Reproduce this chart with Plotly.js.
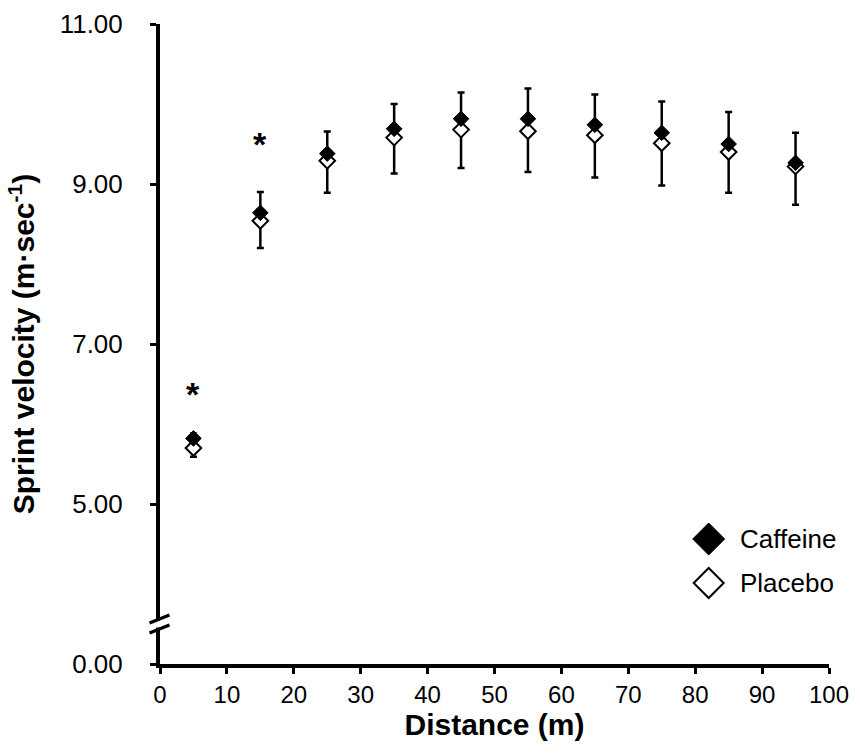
<!DOCTYPE html>
<html>
<head>
<meta charset="utf-8">
<script src="https://cdn.plot.ly/plotly-3.0.1.min.js"></script>
<style>html,body{margin:0;padding:0;background:#fff;}#chart{width:860px;height:755px;}</style>
</head>
<body>
<div id="chart"></div>
<script>
// ---- data ----
var distance = [5, 15, 25, 35, 45, 55, 65, 75, 85, 95];
var caffeine = [5.82, 8.64, 9.38, 9.69, 9.815, 9.815, 9.74, 9.64, 9.50, 9.265];
var caffeineErrUp = [0.06, 0.26, 0.275, 0.31, 0.33, 0.38, 0.38, 0.39, 0.40, 0.375];
var placebo = [5.70, 8.54, 9.29, 9.58, 9.68, 9.66, 9.61, 9.51, 9.40, 9.22];
var placeboErrDown = [0.11, 0.34, 0.40, 0.45, 0.48, 0.51, 0.53, 0.53, 0.51, 0.48];
var yTickVals = [3, 5, 7, 9, 11];
var yTickText = ['0.00', '5.00', '7.00', '9.00', '11.00'];
var xTickVals = [0, 10, 20, 30, 40, 50, 60, 70, 80, 90, 100];
var sigDistance = [5, 15];
var sigY = [6.40, 9.53];
var seriesNames = ['Caffeine', 'Placebo'];

var FONT = 'Liberation Sans, Arial, Helvetica, sans-serif';

var tracePlacebo = {
  x: distance, y: placebo, type: 'scatter', mode: 'markers', name: seriesNames[1],
  marker: {symbol: 'diamond', size: 12, color: '#ffffff', line: {color: '#000', width: 2}},
  error_y: {type: 'data', symmetric: false, array: placebo.map(function(){return 0;}), arrayminus: placeboErrDown,
            color: '#000', thickness: 2.5, width: 3.5},
  showlegend: false, hoverinfo: 'x+y'
};
var traceCaffeine = {
  x: distance, y: caffeine, type: 'scatter', mode: 'markers', name: seriesNames[0],
  marker: {symbol: 'diamond', size: 12, color: '#000000', line: {color: '#000', width: 1}},
  error_y: {type: 'data', symmetric: false, array: caffeineErrUp, arrayminus: caffeine.map(function(){return 0;}),
            color: '#000', thickness: 2.5, width: 3.5},
  showlegend: false, hoverinfo: 'x+y'
};

function px2x(p){ return (p - 159.5) / 670; }
function px2y(p){ return (664 - p) / 640; }
function diamondPath(cx, cy, h){
  return 'M ' + px2x(cx-h) + ' ' + px2y(cy) + ' L ' + px2x(cx) + ' ' + px2y(cy-h) +
         ' L ' + px2x(cx+h) + ' ' + px2y(cy) + ' L ' + px2x(cx) + ' ' + px2y(cy+h) + ' Z';
}

var annotations = sigDistance.map(function(d, i){
  return {x: d, y: sigY[i], xref: 'x', yref: 'y', text: '<b>*</b>', showarrow: false,
          font: {family: FONT, size: 34, color: '#000'}, xanchor: 'center', yanchor: 'middle', yshift: -2};
});
annotations.push({x: px2x(738), y: px2y(539), xref: 'paper', yref: 'paper', text: seriesNames[0], showarrow: false,
  xanchor: 'left', yanchor: 'middle', font: {family: FONT, size: 26, color: '#000'}});
annotations.push({x: px2x(738), y: px2y(583), xref: 'paper', yref: 'paper', text: seriesNames[1], showarrow: false,
  xanchor: 'left', yanchor: 'middle', font: {family: FONT, size: 26, color: '#000'}});

var shapes = [
  // axis break: white gap + two slashes
  {type: 'rect', xref: 'paper', yref: 'paper', x0: px2x(153), x1: px2x(166), y0: px2y(620.5), y1: px2y(627.5),
   fillcolor: '#fff', line: {width: 0}, layer: 'above'},
  {type: 'line', xref: 'paper', yref: 'paper', x0: px2x(149), y0: px2y(623), x1: px2x(169), y1: px2y(615),
   line: {color: '#000', width: 3.5}, layer: 'above'},
  {type: 'line', xref: 'paper', yref: 'paper', x0: px2x(149), y0: px2y(633), x1: px2x(169), y1: px2y(625),
   line: {color: '#000', width: 3.5}, layer: 'above'},
  // legend symbols
  {type: 'path', xref: 'paper', yref: 'paper', path: diamondPath(709, 539, 16), fillcolor: '#000',
   line: {color: '#000', width: 1}, layer: 'above'},
  {type: 'path', xref: 'paper', yref: 'paper', path: diamondPath(709, 583, 15), fillcolor: '#fff',
   line: {color: '#000', width: 2}, layer: 'above'}
];

var layout = {
  width: 860, height: 755,
  margin: {l: 159.5, r: 30.5, t: 24, b: 91, pad: 0},
  paper_bgcolor: '#fff', plot_bgcolor: '#fff',
  showlegend: false,
  font: {family: FONT, color: '#000'},
  xaxis: {
    range: [0, 100], tickvals: xTickVals, ticktext: xTickVals.map(String),
    showgrid: false, zeroline: false, showline: true, linecolor: '#000', linewidth: 4,
    ticks: 'outside', ticklen: 6, tickwidth: 3, tickcolor: '#000',
    tickfont: {family: FONT, size: 24, color: '#000'},
    title: {text: '<b>Distance (m)</b>', font: {family: FONT, size: 30, color: '#000'}, standoff: 0},
    fixedrange: true
  },
  yaxis: {
    range: [3, 11], tickvals: yTickVals, ticktext: yTickText,
    showgrid: false, zeroline: false, showline: true, linecolor: '#000', linewidth: 4,
    ticks: 'outside', ticklen: 6, tickwidth: 3, tickcolor: '#000',
    tickfont: {family: FONT, size: 26, color: '#000'},
    ticklabelstandoff: 22,
    title: {text: '<b>Sprint velocity (m·sec<sup>-1</sup>)</b>', font: {family: FONT, size: 30, color: '#000'}, standoff: 17},
    fixedrange: true
  },
  annotations: annotations,
  shapes: shapes
};

Plotly.newPlot('chart', [tracePlacebo, traceCaffeine], layout, {displayModeBar: false, staticPlot: true});
</script>
</body>
</html>
